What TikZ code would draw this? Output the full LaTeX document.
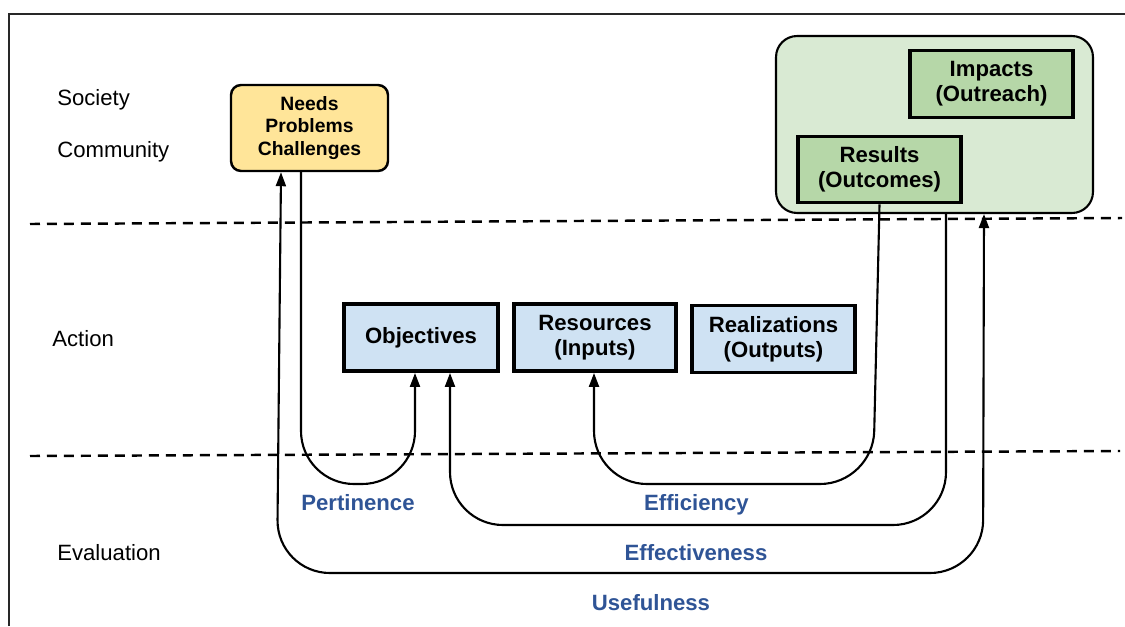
\documentclass[tikz,border=0pt]{standalone}
\usepackage{fontspec}
\setmainfont{Liberation Sans}
\usetikzlibrary{arrows.meta,calc}
\definecolor{needsfill}{RGB}{255,229,153}
\definecolor{bigfill}{RGB}{217,234,211}
\definecolor{grnfill}{RGB}{182,215,168}
\definecolor{actfill}{RGB}{207,226,243}
\definecolor{evalblue}{RGB}{47,84,150}
\definecolor{framegray}{RGB}{40,40,40}
\begin{document}
\begin{tikzpicture}[x=0.02cm,y=-0.02cm,
  lbl/.style={anchor=base west, inner sep=0pt, font=\fontsize{12.6}{15}\selectfont},
  evl/.style={anchor=base, inner sep=0pt, font=\bfseries\fontsize{12.6}{15}\selectfont, text=evalblue},
  actbox/.style={draw=black, line width=2.2pt, fill=actfill, minimum height=1.34cm, align=center, inner sep=0pt, font=\bfseries\fontsize{12.6}{14.4}\selectfont},
  grnbox/.style={draw=black, line width=1.8pt, fill=grnfill, minimum width=3.26cm, minimum height=1.33cm, align=center, inner sep=0pt, font=\bfseries\fontsize{12.6}{14.4}\selectfont},
  conn/.style={line width=1.2pt, rounded corners=1.06cm},
  arrowend/.style={-{Triangle[length=0.28cm,width=0.2cm]}},
  divider/.style={dash pattern=on 0.2cm off 0.14cm, line width=1.4pt}
]
\useasboundingbox (0,0) rectangle (1125,626);
% frame
\draw[framegray, line width=1.2pt] (9,626) -- (9,14) -- (1125,14);
% dividers
\draw[divider] (30,224) -- (1122,218);
\draw[divider] (30,456) -- (1120,451);
% left labels
\node[lbl] (soc) at (57,105) {Society};
\node[lbl] (com) at (57,157) {Community};
\node[lbl] (act) at (52,346) {Action};
\node[lbl] (evalu) at (57,560) {Evaluation};
% boxes
\node[draw=black, line width=1.4pt, fill=needsfill, rounded corners=0.2cm, minimum width=3.14cm, minimum height=1.72cm, align=center, inner sep=0pt, font=\bfseries\fontsize{11}{12.8}\selectfont] (needs) at (309.5,128) {\raisebox{-2pt}{\parbox{3cm}{\centering Needs\\Problems\\Challenges}}};
\node[draw=black, line width=1.2pt, fill=bigfill, rounded corners=0.42cm, minimum width=6.34cm, minimum height=3.54cm] (green) at (934.5,124.5) {};
\node[grnbox] (impacts) at (991.5,84) {Impacts\\(Outreach)};
\node[grnbox] (results) at (879.5,169.5) {Results\\(Outcomes)};
\node[actbox, minimum width=3.08cm] (obj) at (421,337.5) {Objectives};
\node[actbox, minimum width=3.24cm] (res) at (595,337.5) {Resources\\(Inputs)};
\node[actbox, minimum width=3.26cm] (real) at (773.5,339) {Realizations\\(Outputs)};
% waypoints
\coordinate (p1) at (301,484);
\coordinate (p2) at (415,484);
\coordinate (e1) at (873,484);
\coordinate (e2) at (594,484);
\coordinate (f1) at (946,525);
\coordinate (f2) at (450,525);
\coordinate (u1) at (983,573);
\coordinate (u2) at (277,573);
% connectors
\draw[conn, arrowend] ([xshift=-0.17cm]needs.south) -- (p1) -- (p2) -- ([xshift=-0.12cm]obj.south);
\draw[conn, arrowend] (results.south) -- (e1) -- (e2) -- ([xshift=-0.02cm]res.south);
\draw[conn, arrowend] ([xshift=0.23cm]green.south) -- (f1) -- (f2) -- ([xshift=0.58cm]obj.south);
\draw[conn, {Triangle[length=0.28cm,width=0.2cm]}-{Triangle[length=0.28cm,width=0.2cm]}] ([xshift=-0.57cm]needs.south) -- (u2) -- (u1) -- ([xshift=0.99cm]green.south);
% evaluation labels
\node[evl] (pert) at (358,510) {Pertinence};
\node[evl] (effi) at (696.5,510) {Efficiency};
\node[evl] (effe) at (696,560) {Effectiveness};
\node[evl] (usef) at (651,610) {Usefulness};
\end{tikzpicture}
\end{document}
